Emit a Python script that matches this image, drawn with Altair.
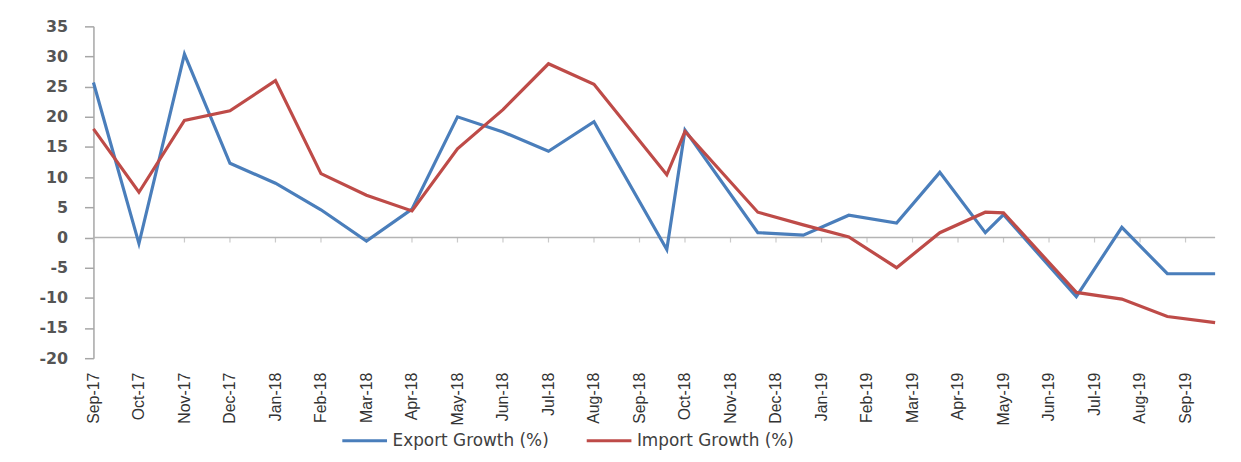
import json
import altair as alt
import pandas as pd

# ---- data ----
month_labels = ["Sep-17", "Oct-17", "Nov-17", "Dec-17", "Jan-18", "Feb-18", "Mar-18",
                "Apr-18", "May-18", "Jun-18", "Jul-18", "Aug-18", "Sep-18", "Oct-18",
                "Nov-18", "Dec-18", "Jan-19", "Feb-19", "Mar-19", "Apr-19", "May-19",
                "Jun-19", "Jul-19", "Aug-19", "Sep-19"]
# position of each observation along the month axis (month index, 0 = Sep-17)
point_pos = [0, 1, 2, 3, 4, 5, 6, 7, 8, 9, 10, 11, 12.6, 13, 14.6, 15.6, 16.6,
             17.65, 18.6, 19.6, 20, 21.6, 22.6, 23.6, 24.65]
export_growth = [25.7, -1.0, 30.4, 12.3, 9.0, 4.6, -0.6, 4.7, 20.0, 17.5, 14.3, 19.2,
                 -2.0, 17.8, 0.8, 0.4, 3.7, 2.4, 10.8, 0.8, 3.8, -9.8, 1.7, -6.0, -6.0]
import_growth = [18.0, 7.5, 19.4, 21.0, 26.0, 10.6, 7.0, 4.4, 14.7, 21.2, 28.8, 25.4,
                 10.4, 17.6, 4.2, 2.1, 0.1, -5.0, 0.8, 4.2, 4.1, -9.1, -10.2, -13.1, -14.1]
series_names = ["Export Growth (%)", "Import Growth (%)"]
series_colors = ["#4a7ebb", "#be4b48"]
y_ticks = list(range(-20, 36, 5))

rows = []
for name, vals in zip(series_names, [export_growth, import_growth]):
    for p, v in zip(point_pos, vals):
        rows.append({"pos": p, "value": v, "series": name})
df = pd.DataFrame(rows)
tick_df = pd.DataFrame({"pos": list(range(len(month_labels))), "value": 0})
zero_df = pd.DataFrame({"value": [0]})

x_max = point_pos[-1]
x_scale = alt.Scale(domain=[0, x_max], nice=False, zero=False)
y_scale = alt.Scale(domain=[-20, 35], nice=False)

label_expr = json.dumps(month_labels) + "[datum.value]"

x_axis = alt.Axis(values=list(range(len(month_labels))), labelExpr=label_expr,
                  title=None, grid=False, domain=False, ticks=False,
                  labelAngle=270, labelAlign="right", labelBaseline="middle",
                  labelPadding=14, labelFont="Liberation Sans", labelFontSize=16,
                  labelColor="#333333", labelOverlap=False)
y_axis = alt.Axis(values=y_ticks, title=None, grid=False, tickSize=9,
                  labelPadding=17, domainColor="#a6a6a6", tickColor="#a6a6a6",
                  domainWidth=1.5, tickWidth=1.5, labelOverlap=False,
                  labelExpr="'' + datum.value",
                  labelFont="DejaVu Sans", labelFontSize=16, labelFontWeight="bold",
                  labelColor="#555555")

zero_line = alt.Chart(zero_df).mark_rule(color="#b4b4b4", strokeWidth=1.5).encode(
    y=alt.Y("value:Q", scale=y_scale, axis=y_axis)
)

zero_ticks = alt.Chart(tick_df).mark_tick(
    orient="vertical", size=5, thickness=1.2, yOffset=2.5, color="#b4b4b4"
).encode(
    x=alt.X("pos:Q", scale=x_scale, axis=x_axis),
    y=alt.Y("value:Q", scale=y_scale, axis=y_axis),
)

lines = alt.Chart(df).mark_line(strokeWidth=3.2).encode(
    x=alt.X("pos:Q", scale=x_scale, axis=x_axis),
    y=alt.Y("value:Q", scale=y_scale, axis=y_axis),
    color=alt.Color("series:N",
                    scale=alt.Scale(domain=series_names, range=series_colors),
                    legend=alt.Legend(orient="none", legendX=249, legendY=393,
                                      direction="horizontal", title=None,
                                      symbolType="stroke", symbolSize=2025,
                                      symbolStrokeWidth=3, labelFont="DejaVu Sans",
                                      labelFontSize=17, labelColor="#404040",
                                      columnPadding=31, labelOffset=4, padding=0)),
    detail="series:N",
)

chart = alt.layer(zero_line, zero_ticks, lines).properties(
    width=1129,
    height=334,
    autosize=alt.AutoSizeParams(type="none"),
    padding={"left": 86, "top": 17, "right": 18, "bottom": 103},
    background="white",
).configure_view(stroke=None)

chart.save("out.html", embed_options={"renderer": "svg", "actions": False})
